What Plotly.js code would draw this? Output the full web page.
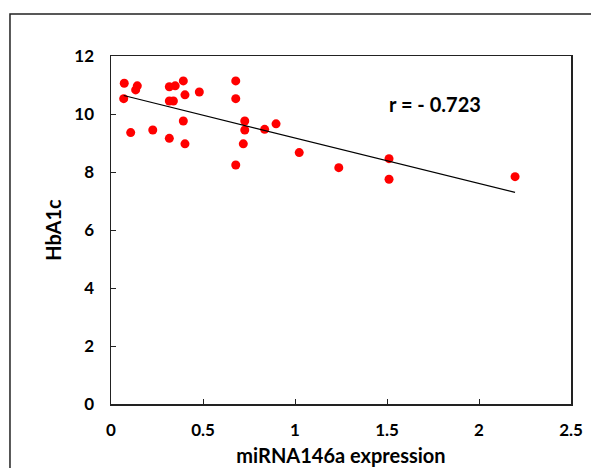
<!DOCTYPE html>
<html>
<head>
<meta charset="utf-8">
<script src="https://cdn.plot.ly/plotly-3.0.1.min.js"></script>
<style>html,body{margin:0;padding:0;background:#fff;}#chart{width:591px;height:468px;}</style>
</head>
<body>
<div id="chart"></div>
<script>
// miRNA146a expression (x) vs HbA1c (y)
const mirna = [0.072, 0.069, 0.143, 0.134, 0.107, 0.227, 0.317, 0.349, 0.393, 0.402,
               0.317, 0.339, 0.480, 0.393, 0.317, 0.402, 0.678, 0.678, 0.727, 0.727,
               0.719, 0.678, 0.835, 0.897, 1.023, 1.238, 1.511, 1.511, 2.196];
const hba1c = [11.06, 10.53, 10.97, 10.83, 9.36, 9.45, 10.94, 10.97, 11.14, 10.66,
               10.45, 10.45, 10.76, 9.76, 9.16, 8.97, 11.14, 10.53, 9.76, 9.45,
               8.97, 8.24, 9.47, 9.66, 8.67, 8.15, 8.46, 7.75, 7.84];
const rLabel = 'r = - 0.723';
const xTicks = [0, 0.5, 1, 1.5, 2, 2.5];
const yTicks = [0, 2, 4, 6, 8, 10, 12];

// least-squares trend line computed from the data
const n = mirna.length;
const mx = mirna.reduce((a,b)=>a+b,0)/n;
const my = hba1c.reduce((a,b)=>a+b,0)/n;
let sxy = 0, sxx = 0;
for (let i=0;i<n;i++){ sxy += (mirna[i]-mx)*(hba1c[i]-my); sxx += (mirna[i]-mx)**2; }
const slope = sxy/sxx, icpt = my - slope*mx;
const xmin = Math.min(...mirna), xmax = Math.max(...mirna);

const font = "Lato, 'DejaVu Sans', sans-serif";

const traces = [
  {x:mirna, y:hba1c, mode:'markers', type:'scatter',
   marker:{color:'#ff0000', size:9}, hoverinfo:'skip', showlegend:false},
  {x:[xmin,xmax], y:[icpt+slope*xmin, icpt+slope*xmax], mode:'lines', type:'scatter',
   line:{color:'#000', width:1.2}, hoverinfo:'skip', showlegend:false}
];

const layout = {
  width:591, height:468,
  margin:{l:111, r:20, t:56, b:64},
  paper_bgcolor:'#fff', plot_bgcolor:'#fff',
  font:{family:font, color:'#000'},
  xaxis:{range:[0,2.5], tickvals:xTicks, ticktext:xTicks.map(String),
    showgrid:false, zeroline:false, showline:true, mirror:true,
    linecolor:'#222', linewidth:1.5, ticks:'inside', ticklen:5, tickcolor:'#222',
    ticklabelstandoff:10,
    tickfont:{family:font, size:17, color:'#000', weight:'bold'},
    title:{text:'miRNA146a expression', standoff:10, font:{family:font, size:20, color:'#000', weight:'bold'}}},
  yaxis:{range:[0,12], tickvals:yTicks, ticktext:yTicks.map(String),
    showgrid:false, zeroline:false, showline:true, mirror:true,
    linecolor:'#222', linewidth:1.5, ticks:'inside', ticklen:5, tickcolor:'#222',
    ticklabelstandoff:12,
    tickfont:{family:font, size:17, color:'#000', weight:'bold'},
    title:{text:'HbA1c', standoff:7, font:{family:font, size:20, color:'#000', weight:'bold'}}},
  annotations:[{x:1.76, y:10.34, xref:'x', yref:'y', text:rLabel, showarrow:false,
    font:{family:font, size:20, color:'#000', weight:'bold'}}],
  shapes:[{type:'rect', xref:'paper', yref:'paper', x0:-0.2196, x1:1.06, y0:-0.22, y1:1.1207,
    line:{color:'#222', width:1.5}, fillcolor:'rgba(0,0,0,0)', layer:'below'}]
};

Plotly.newPlot('chart', traces, layout, {staticPlot:true, displayModeBar:false});
</script>
</body>
</html>
